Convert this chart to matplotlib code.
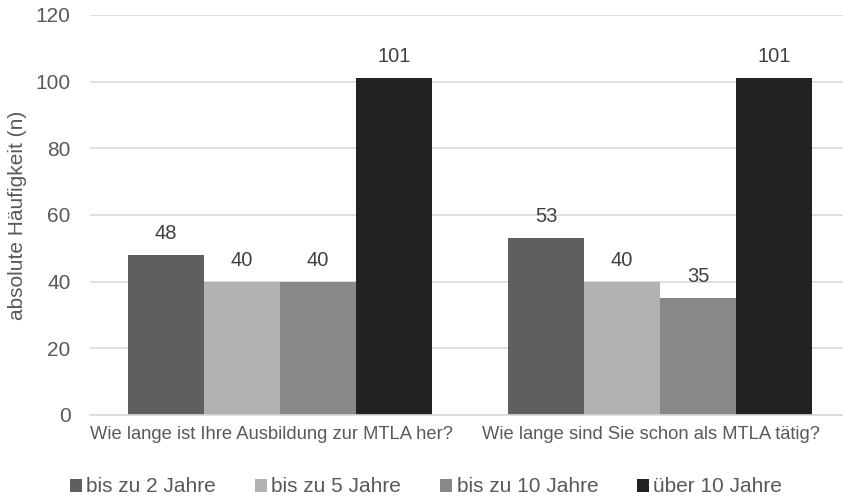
import matplotlib.pyplot as plt
import matplotlib.transforms as mtransforms
import numpy as np

plt.rcParams['font.family'] = ['Liberation Sans', 'DejaVu Sans']

kategorien = ["Wie lange ist Ihre Ausbildung zur MTLA her?",
              "Wie lange sind Sie schon als MTLA tätig?"]
serien = ["bis zu 2 Jahre", "bis zu 5 Jahre", "bis zu 10 Jahre", "über 10 Jahre"]
werte = [
    [48, 53],
    [40, 40],
    [40, 35],
    [101, 101],
]
farben = ["#5f5f5f", "#b2b2b2", "#888888", "#222222"]

textfarbe = "#595959"
W, H = 843, 496
fig = plt.figure(figsize=(W / 100, H / 100), dpi=100)
ax = fig.add_axes([90 / W, (H - 415) / H, 760 / W, 400 / H])

x = np.arange(len(kategorien))
breite = 0.2
for i, (name, vals, col) in enumerate(zip(serien, werte, farben)):
    pos = x + (i - 1.5) * breite
    bars = ax.bar(pos, vals, breite, color=col, label=name, zorder=2)
    for b, v in zip(bars, vals):
        ax.text(b.get_x() + b.get_width() / 2, v + 4.8, str(v), ha="center",
                va="baseline", fontsize=14.5, color="#404040")

ax.set_xlim(-0.5, 1.5)
ax.set_ylim(0, 120)
ax.set_yticks(range(0, 121, 20))
ax.yaxis.grid(True, color="#d9d9d9", linewidth=1.2, zorder=0)
for s in ["top", "right", "left"]:
    ax.spines[s].set_visible(False)
ax.spines["bottom"].set_color("#d9d9d9")
ax.spines["bottom"].set_linewidth(1.2)
ax.tick_params(axis="both", length=0, colors=textfarbe)
ax.tick_params(axis="y", labelsize=15, pad=14)
ax.set_xticks(x)
ax.set_xticklabels(kategorien, fontsize=13.2)
ax.tick_params(axis="x", pad=8)

# Kategorienbeschriftungen leicht nach links verschieben
versatz = mtransforms.ScaledTranslation(-9 / 100, 0, fig.dpi_scale_trans)
for lbl in ax.get_xticklabels():
    lbl.set_transform(lbl.get_transform() + versatz)

ax.set_ylabel("absolute Häufigkeit (n)", fontsize=15, color=textfarbe)
ax.yaxis.set_label_coords(-63 / 760, 0.5)

fig.legend(loc="center", bbox_to_anchor=(426 / W, 1 - 487 / H), ncol=4,
           frameon=False, fontsize=15, labelcolor=textfarbe,
           handlelength=0.6, handleheight=0.6, handletextpad=0.2,
           columnspacing=1.85, borderpad=0, borderaxespad=0)

fig.savefig("out.png", dpi=100)
